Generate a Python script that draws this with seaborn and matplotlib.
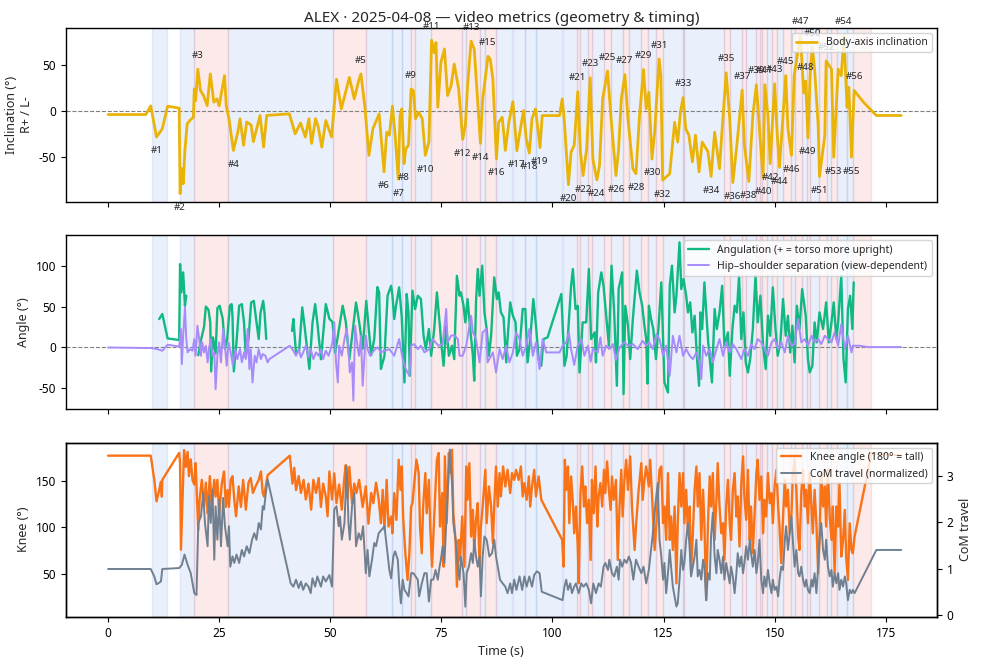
import numpy as np
import pandas as pd
import matplotlib
matplotlib.use("Agg")
import matplotlib.pyplot as plt
import seaborn as sns
from matplotlib.lines import Line2D

nan = float("nan")

# body-axis inclination (time s, degrees)
incl_pts = [
    (0, -3.5), (8.5, -3.5), (9.6, 6), (10.9, -28), (12.2, -19), (13.4, 5.6), (16.0, 3.5),
    (16.2, -89.7), (16.6, -62.5), (16.9, -79), (17.3, -42.6), (17.8, -13.6), (18.4, -10),
    (19.2, -6.3), (19.4, 24.5), (19.7, 11.8), (20.2, 46), (20.8, 22.6), (21.5, 17), (22.3, 6.3),
    (23.0, 40.8), (23.8, 10), (24.5, 13.6), (25.0, 6), (26.2, 39), (26.6, 6), (27.2, -8),
    (28.2, -42.6), (29.2, -22.6), (29.7, -8), (30.5, -37), (31.2, -11.6), (32.2, -15),
    (32.7, -33), (34.2, -4.5), (35.0, -38.9), (35.7, -4.5), (40.8, -2.7), (42.1, -24.5),
    (43.3, -12.7), (44.4, -28), (45.2, -8), (45.8, -35), (46.7, -8), (47.3, -17), (48.1, -39),
    (49.0, -10), (50.3, -28), (51.4, 35), (52.5, 2.7), (54.3, 37), (55.4, 13.6), (56.4, 33.5),
    (56.9, 40.8), (57.8, 4.5), (58.7, -48), (59.6, -19), (61.0, -2.7), (62.1, -66),
    (62.7, -22.7), (63.3, -26), (64.0, 5.6), (64.6, -26), (65.3, -74), (65.7, -4.6), (66.1, 2.7),
    (66.6, -57), (67.0, -41), (67.6, -37), (68.2, 24.4), (68.7, 22.6), (69.2, -8), (69.9, -1),
    (70.7, -8), (71.4, -48), (72.2, -33.5), (72.8, 77.6), (73.4, 64), (73.8, 75), (74.2, 4.5),
    (74.9, 53.4), (75.7, 68), (76.4, 17.2), (77.2, 28), (77.9, 51.6), (78.9, 24.4),
    (79.8, -30.5), (80.4, -15.4), (80.9, 28), (81.7, 76.5), (82.4, 68), (82.9, 31.7),
    (83.8, -35), (84.3, 13.5), (85.5, 60), (86.0, 57), (86.6, 35), (87.4, -52), (87.9, -12),
    (88.7, -6.4), (89.4, -42.6), (90.2, -12), (91.1, 10.6), (92.0, -43), (92.8, -19),
    (93.5, 0.9), (94.1, -30), (94.8, -45.5), (95.4, -8), (96.2, 2.7), (97.2, -39.5),
    (97.7, -4.6), (101.6, -4.6), (102.2, 13.5), (102.7, -12), (103.6, -80), (104.2, -44.4),
    (104.9, -37), (105.7, 21.4), (106.3, -44.4), (106.9, -70), (107.7, -41), (108.5, 36.6),
    (109.1, -52), (110.0, -74.7), (110.6, -59), (111.3, 13.5), (112.4, 43.9), (113.2, -8),
    (114.3, -70), (114.9, -41), (115.5, 13.5), (116.3, 40), (117.0, -8), (118.1, -62.5),
    (118.8, -68), (119.6, -4.6), (120.5, 45.6), (121.1, 2.7), (121.7, 20.8), (122.4, -52),
    (123.0, -23), (124.0, 57), (124.4, 39), (124.8, -75), (126.4, -68), (127.5, -12),
    (128.2, -33.5), (128.8, -1), (129.4, 15), (130.0, -19), (130.7, -26), (131.5, -55),
    (132.2, -26), (133.0, -66), (133.7, -33.5), (135.0, -44), (135.7, -71), (136.5, -22.7),
    (137.6, -62.5), (138.2, -19), (139.1, 42), (139.9, -8), (140.6, -77.6), (141.5, -37),
    (142.7, 23), (143.2, -37), (144.2, -76.5), (145.1, -4.5), (145.9, 29), (146.8, -33.5),
    (147.4, -72), (147.8, 29), (148.5, -4.5), (149.0, -57), (150.0, 30), (150.6, -26),
    (151.1, -61), (152.5, 39), (153.0, -19), (153.8, -48), (154.4, 39), (155.8, 82.6),
    (156.3, 40), (156.6, 20), (157.0, 33), (157.5, -29), (158.0, 40), (158.5, 70), (159.0, 46),
    (159.8, -15.4), (160.1, -71), (161.3, -26), (161.6, 55), (162.8, 46), (163.3, -50),
    (164.3, 46), (165.0, 39), (165.6, 82.6), (166.3, 4.5), (166.7, 26.3), (167.3, -50),
    (167.9, 22.8), (170.0, 10), (172.9, -4.5), (178.5, -4.5),
]

# numbered turn markers on the inclination curve: time, value, label above?
note_t = [10.9, 16.2, 20.2, 28.2, 56.9, 62.1, 65.3, 66.6, 68.2, 71.4, 72.8, 79.8, 81.7, 83.8,
          85.5, 87.4, 92.0, 94.8, 97.2, 103.6, 105.7, 106.9, 108.5, 110.0, 112.4, 114.3, 116.3,
          118.8, 120.5, 122.4, 124.0, 124.8, 129.4, 135.7, 139.1, 140.6, 142.7, 144.2, 145.9,
          147.4, 147.8, 149.0, 150.0, 151.1, 152.5, 153.8, 155.8, 157.0, 157.5, 158.5, 160.1,
          161.6, 163.3, 165.6, 167.3, 167.9]
note_v = [-28, -89.7, 46, -42.6, 40.8, -66, -74, -57, 24.4, -48, 77.6, -30.5, 76.5, -35, 60,
          -52, -43, -45.5, -39.5, -80, 21.4, -70, 36.6, -74.7, 43.9, -70, 40, -68, 45.6, -52, 57,
          -75, 15, -71, 42, -77.6, 23, -76.5, 29, -72, 29, -57, 30, -61, 39, -48, 82.6, 33, -29,
          70, -71, 55, -50, 82.6, -50, 22.8]
note_up = [0, 0, 1, 0, 1, 0, 0, 0, 1, 0, 1, 0, 1, 0, 1, 0, 0, 0, 0, 0, 1, 0, 1, 0, 1, 0, 1, 0,
           1, 0, 1, 0, 1, 0, 1, 0, 1, 0, 1, 0, 1, 0, 1, 0, 1, 0, 1, 1, 0, 1, 0, 1, 0, 1, 0, 1]

# angulation (nan rows = gaps in tracking)
angul_pts = [
    (11.5, 34.6), (12.2, 40.8), (13.4, 10.7), (16.0, 8.7), (16.2, 102.5), (16.5, 67.5),
    (16.9, 92.2), (17.3, 51), (17.6, 63.4), (nan, nan),
    (20.3, -10), (20.8, 6), (21.6, 25), (22.0, 50), (22.6, 46), (23.0, 30), (23.2, -30),
    (23.6, 12), (24.2, -8), (24.6, 48), (25.1, 51), (25.8, 35), (26.3, -2), (26.8, 10),
    (27.4, 51), (27.8, 53), (28.0, 38), (28.3, -30), (28.9, 6), (29.5, 51), (30.1, 53),
    (30.6, 30), (31.0, -12), (31.6, 10), (32.2, 55), (32.8, 57), (33.3, 35), (33.9, 10),
    (34.3, 42), (34.9, 57), (35.2, 43), (35.6, 10), (nan, nan),
    (41.4, 20), (41.7, 34.6), (42.3, -8), (43.0, -4), (43.7, 49), (44.3, 22), (45.3, -27),
    (46.0, 30), (46.6, 53), (47.1, 30), (47.9, -15), (49.0, 53), (49.8, 35), (50.5, 31),
    (51.1, -7), (52.8, 51), (53.5, 31), (54.3, -15), (55.8, 55), (56.5, 31), (57.3, -2),
    (58.1, 57), (58.6, 26), (59.2, -10), (59.9, 10), (60.6, 74), (61.0, 67.5), (61.4, -27),
    (62.2, -10.7), (62.9, 63.4), (63.7, 75.7), (64.0, 63.4), (64.4, 34.6), (64.8, 51),
    (65.5, 73.7), (66.1, 36.6), (66.7, -43.6), (67.2, 65.5), (67.6, 42.8), (67.9, -35.4),
    (68.5, 69.6), (69.1, 47), (69.7, 63.4), (70.4, 59.3), (71.0, 14), (71.5, -2.5),
    (72.2, 22.3), (72.7, -10.7), (73.4, 22.3), (74.0, 67.5), (74.6, 30.5), (74.9, 9.9),
    (75.5, -23), (76.1, 26.4), (76.7, -10.7), (77.4, 1.7), (77.9, -14.8), (78.5, 88),
    (79.1, 63.4), (79.4, 67.5), (80.0, 51), (80.4, 30.5), (80.9, 59.3), (81.5, 22.3),
    (82.1, -10.7), (82.4, -41.5), (82.8, 55.2), (83.2, 96.3), (83.6, 63.4), (84.2, 100.5),
    (84.7, 42.8), (85.2, 22.3), (85.7, -10.7), (86.2, 14), (86.9, 86), (87.5, 59.3),
    (87.9, 67.5), (88.4, 42.8), (89.0, 36.6), (89.6, -18.9), (89.9, 9.9), (90.5, 55.2),
    (91.1, 38.7), (91.7, 30.5), (92.0, -10.7), (92.6, -2.5), (93.3, 47), (93.9, 47),
    (94.4, -18.9), (95.0, 9.9), (95.7, 59.3), (96.3, 26.4), (96.9, -14.8), (97.5, -23),
    (98.0, 9.9), (98.9, 12), (102.0, 65.5), (102.7, -23), (103.2, -10.7), (104.2, 75.7),
    (104.6, 96.3), (105.2, 47), (105.7, 51), (106.1, -31.3), (106.8, 30.5), (107.6, 30.5),
    (108.2, 96.3), (108.7, 9.9), (109.5, 18.1), (109.8, -18.9), (110.3, 67.5), (111.0, 92.2),
    (111.5, 75.7), (112.1, 38.7), (112.7, 1.7), (113.3, 100.5), (113.9, 42.8), (114.5, -47.7),
    (114.9, 71.6), (115.7, 92.2), (116.0, -58), (116.4, 51), (117.0, 26.4), (117.5, -14.8),
    (118.1, 34.6), (119.0, 94.3), (119.6, 67.5), (120.2, 51), (120.7, 26.4), (121.1, 9.9),
    (121.4, -45), (121.7, 51), (122.2, 34.6), (122.7, 22.3), (123.3, -14.8), (123.9, 26.4),
    (124.5, 79.9), (124.9, 9.9), (125.2, -43.6), (126.0, -56), (126.4, 75.7), (126.9, 100.5),
    (127.5, 42.8), (127.9, 63.4), (128.6, 129.2), (129.0, 71.6), (129.5, 84), (130.1, 63.4),
    (130.5, 42.8), (131.0, 55.2), (131.5, 18.1), (132.0, 38.7), (132.5, -10.7),
    (133.0, -47.7), (133.3, 42.8), (133.7, 22.3), (134.2, 79.9), (135.0, 9.9), (135.4, -14.8),
    (135.9, -43.6), (136.5, 47), (137.0, 22.3), (137.6, 42.8), (138.2, 75.7), (138.7, 1.7),
    (139.5, 18.1), (139.9, -35.4), (140.5, 22.3), (141.0, 51), (141.5, 42.8), (142.0, 88.1),
    (142.5, 9.9), (143.0, 42.8), (143.5, -18.9), (144.0, -31.3), (144.5, -14.8), (145.1, 22.3),
    (145.7, 88.1), (146.2, 30.5), (146.8, 63.4), (147.4, 1.7), (148.0, -27.1), (148.5, 38.7),
    (149.0, 14), (149.6, 73.7), (150.2, 22.3), (150.7, -10.7), (151.3, 5.8), (151.9, 59.3),
    (152.5, 14), (153.0, 38.7), (153.5, -6.6), (154.0, 26.4), (154.5, -18.9), (155.0, 51),
    (155.6, 22.3), (156.2, 71.6), (157.0, 38.7), (157.5, -14.8), (157.9, -31.3), (158.5, -23),
    (159.0, 30.5), (159.5, 5.8), (160.1, 42.8), (160.9, 22.3), (161.6, 55.2), (162.2, 5.8),
    (162.8, 30.5), (163.3, 55.2), (163.9, 9.9), (164.3, 30.5), (165.0, 88.1), (165.5, -14.8),
    (166.0, -43.6), (166.5, 47), (167.0, 63.4), (167.5, 22.3), (167.8, 79.9),
]

# hip-shoulder separation
hipsh_pts = [
    (0, -0.5), (9.6, -1.2), (11.1, -2.5), (12.2, -4.5), (13.4, 2.9), (16.0, 0.8), (16.4, 22.3),
    (16.6, -21), (16.9, 14), (17.3, 49), (17.6, 9.9), (17.9, -6.6), (18.4, -2.5), (19.0, -4.5),
    (19.4, 9.9), (19.7, -10.7), (20.1, 26.4), (20.5, 9.9), (20.9, -10.7), (21.2, 5.8),
    (21.6, -6.6), (22.0, 1.7), (22.4, -18.9), (22.7, -2.5), (23.1, 9.9), (23.5, -10.7),
    (23.9, -6.6), (24.2, -52), (24.6, -10.7), (25.0, 5.8), (25.4, -18.9), (25.9, 22.3),
    (26.3, 1.7), (26.7, -23), (27.1, 5.8), (27.6, -6.6), (28.1, -23), (28.6, -2.5),
    (29.1, -14.8), (29.7, -2.5), (30.1, -18.9), (30.6, -6.6), (31.0, -14.8), (31.4, 22.3),
    (31.8, -27.1), (32.1, -2.5), (32.5, -43.6), (33.0, -10.7), (33.4, -18.9), (33.9, -2.5),
    (34.4, -14.8), (34.8, -8.6), (35.4, -10.7), (35.9, -18.9), (36.3, -14.8), (40.9, 1.7),
    (41.7, -4.5), (42.3, -10.7), (42.9, -2.5), (43.4, -12.7), (43.9, -6.6), (44.5, 1.7),
    (45.1, -12.7), (45.6, -2.5), (46.2, -14.8), (46.8, -6.6), (47.4, -10.7), (47.9, -2.5),
    (48.4, -14.8), (49.0, -4.5), (49.6, -10.7), (50.1, -2.5), (50.5, 5.8), (50.9, 30.5),
    (51.3, -18.9), (51.7, -43.6), (52.0, 1.7), (52.6, -10.7), (53.2, 9.9), (53.7, 22.3),
    (54.1, -2.5), (54.4, -31.3), (54.9, -18.9), (55.2, -66), (55.6, 26.4), (56.2, -2.5),
    (56.5, -10.7), (56.9, 14), (57.3, -47.7), (57.7, -10.7), (58.0, 14), (58.4, -2.5),
    (59.0, -10.7), (59.5, -6.6), (60.1, -2.5), (60.7, -0.4), (61.4, -6.6), (62.2, -4.5),
    (63.3, -2.5), (64.4, -10.7), (65.5, 9.9), (66.3, -14.8), (67.0, -27.1), (67.8, -35.4),
    (68.2, 1.7), (68.9, 3.7), (69.7, -2.5), (70.4, 1.7), (71.2, -6.6), (72.3, -2.5),
    (73.0, 9.9), (73.7, 5.8), (74.4, 1.7), (75.3, 3.7), (76.1, 47), (76.4, 5.8), (77.2, 14),
    (77.9, 14.8), (78.7, 9.9), (79.1, -10.7), (79.8, -10.7), (80.6, 1.7), (81.2, 22.3),
    (81.7, 38.7), (82.1, 18.1), (82.8, 9.9), (83.6, -18.9), (84.3, 18.1), (85.1, 22.3),
    (85.4, -18.9), (86.6, -6.6), (87.3, -31.3), (88.1, -2.5), (88.8, -14.8), (89.6, 1.7),
    (90.3, -18.9), (91.1, -6.6), (91.8, 18.1), (92.6, 9.9), (93.3, -10.7), (94.1, 1.7),
    (94.8, 22.3), (95.6, -10.7), (96.3, 5.8), (97.1, -27.1), (97.8, 9.9), (98.6, -6.6),
    (101.6, -6.6), (102.3, 1.7), (103.1, 5.8), (103.7, 18.1), (104.2, -2.5), (104.9, -22),
    (105.7, 1.7), (106.5, 9.9), (107.2, -10.7), (108.0, 1.7), (108.6, -18), (109.1, -2.5),
    (110.2, -6.6), (110.8, 12), (111.3, -10.7), (112.1, 1.7), (112.8, -2.5), (113.6, 3.7),
    (114.3, -16), (115.1, -0.4), (116.2, 5.8), (117.0, 1.7), (118.1, 3.7), (119.2, -2.5),
    (120.3, 7.8), (121.1, 1.7), (121.8, 5.8), (122.6, -2.5), (123.4, 16.1), (124.1, 9.9),
    (124.9, -10.7), (125.6, 1.7), (126.4, -35.4), (127.1, 14), (127.9, -6.6), (128.6, 14),
    (129.4, -10.7), (130.1, -2.5), (130.9, -10.7), (131.6, -14.8), (132.4, -6.6),
    (133.1, -18.9), (133.5, -39.5), (133.9, 1.7), (134.6, -10.7), (135.4, -2.5),
    (136.1, -18.9), (136.9, -2.5), (137.6, 9.9), (138.4, -10.7), (139.1, 5.8), (139.9, -6.6),
    (140.6, 3.7), (141.4, -2.5), (142.5, -14.8), (143.2, -2.5), (144.0, -10.7), (144.7, 3.7),
    (145.5, -2.5), (146.2, 9.9), (147.0, 5.8), (147.8, -2.5), (148.5, -10.7), (149.3, 5.8),
    (150.0, 9.9), (150.8, -2.5), (151.5, 5.8), (152.3, -6.6), (153.0, 14), (153.8, 1.7),
    (154.5, 3.7), (155.3, 34.6), (156.0, 5.8), (156.8, 9.9), (157.5, 1.7), (158.3, 14),
    (159.0, 5.8), (159.8, 9.9), (160.5, 3.7), (161.3, 14), (162.0, 9.9), (162.8, 5.8),
    (163.5, 18.1), (164.3, 1.7), (165.0, 28.4), (165.8, -2.5), (166.5, 14), (167.3, -6.6),
    (167.6, 1.7), (169.1, 1.7), (171.0, 0), (178.5, 0),
]

# knee angle (deg)
knee_pts = [
    (0, 177), (9.6, 177), (10.4, 151), (10.9, 128), (11.5, 140), (11.9, 149), (12.1, 133),
    (12.2, 151), (16.0, 180), (16.2, 169), (16.4, 76), (16.7, 122), (17.1, 183), (17.5, 165),
    (17.9, 181), (18.2, 155), (18.6, 173), (19.0, 151), (19.4, 146), (19.7, 169), (20.1, 122),
    (20.3, 97), (20.6, 130), (21.1, 151), (21.6, 122), (22.0, 148), (22.4, 115), (22.9, 155),
    (23.3, 122), (23.9, 151), (24.2, 133), (24.6, 151), (25.0, 115), (25.6, 147), (26.1, 160),
    (26.5, 122), (26.9, 140), (27.2, 122), (27.6, 151), (28.0, 155), (28.4, 130), (28.8, 112),
    (29.4, 144), (29.9, 122), (30.4, 151), (31.0, 119), (31.6, 148), (32.1, 153), (32.6, 137),
    (33.2, 144), (33.9, 151), (34.4, 160), (34.8, 137), (35.1, 133), (35.9, 156), (40.9, 177),
    (41.5, 147), (41.9, 164), (42.3, 140), (42.9, 155), (43.4, 137), (44.0, 151), (44.5, 130),
    (45.1, 147), (45.7, 119), (46.2, 151), (46.8, 137), (47.4, 153), (47.9, 122), (48.4, 147),
    (49.0, 133), (49.4, 112), (49.8, 160), (50.4, 130), (50.9, 158), (51.4, 126), (52.0, 146),
    (52.6, 119), (53.2, 155), (53.5, 167), (53.9, 131), (54.3, 165), (54.9, 126), (55.4, 147),
    (55.9, 137), (56.5, 151), (57.3, 122), (58.0, 144), (58.6, 104), (59.2, 137), (59.7, 126),
    (60.3, 148), (60.9, 130), (61.4, 104.5), (61.8, 140.3), (62.2, 97.3), (62.7, 151),
    (63.1, 100.9), (63.7, 111.7), (64.0, 93.7), (64.4, 136.8), (64.9, 108.1), (65.4, 172.6),
    (65.8, 140.3), (66.1, 165.4), (66.4, 111.7), (66.9, 72.2), (67.4, 43.6), (67.8, 72.2),
    (68.2, 122.4), (68.5, 126), (68.9, 147.5), (69.4, 172.6), (69.9, 158.3), (70.2, 100.9),
    (70.6, 72.2), (70.9, 122.4), (71.4, 158.3), (71.7, 115.2), (72.2, 151), (72.5, 100.9),
    (72.9, 57.9), (73.2, 90.2), (73.7, 143.9), (74.0, 172.6), (74.4, 179.8), (74.7, 100.9),
    (75.2, 136.8), (75.5, 57.9), (75.8, 176.2), (76.2, 104.5), (76.7, 179.8), (76.9, 158.3),
    (77.4, 183.3), (77.7, 115.2), (78.2, 86.6), (78.5, 36.4), (78.9, 86.6), (79.2, 65.1),
    (79.7, 111.7), (80.2, 57.9), (80.6, 165.4), (80.9, 129.6), (81.3, 169), (81.7, 90.2),
    (82.1, 118.8), (82.4, 75.8), (82.8, 108.1), (83.2, 126), (83.6, 57.9), (83.9, 100.9),
    (84.3, 122.4), (84.9, 161.8), (85.2, 104.5), (85.7, 143.9), (86.2, 122.4), (86.6, 83),
    (86.9, 122.4), (87.3, 165.4), (87.7, 122.4), (88.1, 158.3), (88.4, 133.2), (88.9, 165.4),
    (89.4, 143.9), (89.9, 161.8), (90.5, 136.8), (90.9, 158.3), (91.4, 151), (91.8, 161.8),
    (92.4, 151), (92.9, 165.4), (93.3, 133.2), (93.7, 147.5), (94.2, 129.6), (94.7, 154.7),
    (95.0, 122.4), (95.4, 143.9), (95.9, 161.8), (96.3, 133.2), (96.9, 154.7), (97.5, 129.6),
    (102.2, 86.6), (102.5, 57.9), (102.8, 172.6), (103.1, 140.3), (103.5, 165.4),
    (103.8, 104.5), (104.2, 154.7), (104.6, 126), (104.9, 93.7), (105.3, 122.4), (105.7, 79.4),
    (105.9, 40), (106.3, 136.8), (106.7, 165.4), (107.1, 122.4), (107.4, 143.9), (107.8, 104.5),
    (108.2, 129.6), (108.6, 65.1), (108.9, 151), (109.3, 115.2), (109.7, 165.4), (110.1, 100.9),
    (110.4, 133.2), (110.8, 147.5), (111.2, 122.4), (111.6, 161.8), (111.9, 136.8),
    (112.3, 170.8), (112.7, 140.3), (113.1, 118.8), (113.4, 154.7), (113.8, 129.6), (114.3, 151),
    (114.7, 65.1), (115.1, 122.4), (115.5, 161.8), (115.8, 111.7), (116.2, 151), (116.6, 172.6),
    (117.0, 140.3), (117.5, 176.2), (117.9, 122.4), (118.5, 75.8), (118.8, 100.9),
    (119.4, 140.3), (120.0, 169), (120.3, 129.6), (120.7, 151), (121.1, 165.4), (121.7, 143.9),
    (122.0, 172.6), (122.5, 126), (123.0, 75.8), (123.4, 104.5), (123.7, 133.2), (124.1, 161.8),
    (124.5, 165.4), (124.9, 104.5), (125.2, 122.4), (125.6, 86.6), (126.0, 158.3), (126.4, 86.6),
    (126.7, 111.7), (127.1, 75.8), (127.5, 122.4), (127.9, 40), (128.2, 104.5), (128.6, 158.3),
    (129.0, 122.4), (129.4, 158.3), (129.7, 104.5), (130.1, 140.3), (130.5, 93.7),
    (130.9, 122.4), (131.2, 50.7), (131.6, 93.7), (132.0, 140.3), (132.4, 165.4), (132.7, 122.4),
    (133.1, 158.3), (133.5, 86.6), (133.9, 140.3), (134.2, 104.5), (134.6, 22), (135.0, 104.5),
    (135.4, 154.7), (135.7, 122.4), (136.1, 158.3), (136.5, 86.6), (136.9, 129.6), (137.2, 169),
    (137.6, 122.4), (138.0, 93.7), (138.4, 104.5), (138.7, 65.1), (139.1, 122.4), (139.5, 151),
    (139.9, 104.5), (140.2, 86.6), (140.6, 140.3), (141.0, 158.3), (141.4, 111.7),
    (141.7, 133.2), (142.1, 79.4), (142.5, 147.5), (142.9, 176.2), (143.2, 133.2),
    (143.6, 108.1), (144.0, 161.8), (144.4, 86.6), (144.7, 122.4), (145.1, 72.2), (145.5, 115.2),
    (145.9, 158.3), (146.2, 172.6), (146.6, 129.6), (147.0, 154.7), (147.4, 93.7),
    (147.7, 129.6), (148.1, 111.7), (148.5, 158.3), (148.9, 126), (149.3, 136.8), (149.6, 104.5),
    (150.0, 143.9), (150.4, 161.8), (150.8, 122.4), (151.1, 100.9), (151.5, 61.5),
    (151.9, 111.7), (152.3, 151), (152.6, 122.4), (153.0, 140.3), (153.4, 93.7), (153.8, 115.2),
    (154.1, 154.7), (154.5, 172.6), (154.9, 140.3), (155.3, 90.2), (155.6, 75.8), (156.0, 136.8),
    (156.4, 161.8), (156.8, 122.4), (157.1, 140.3), (157.5, 104.5), (157.9, 158.3),
    (158.3, 122.4), (158.6, 93.7), (159.0, 140.3), (159.4, 104.5), (159.8, 50.7), (160.1, 86.6),
    (160.5, 158.3), (160.9, 122.4), (161.3, 143.9), (161.6, 100.9), (162.0, 161.8),
    (162.4, 111.7), (162.8, 86.6), (163.1, 122.4), (163.5, 50.7), (163.9, 122.4), (164.3, 100.9),
    (164.6, 147.5), (165.0, 68.7), (165.4, 86.6), (165.8, 118.8), (166.1, 68.7), (166.5, 43.6),
    (166.9, 104.5), (167.3, 75.8), (167.6, 72.2), (168.0, 90.2), (171.8, 179.8), (178.5, 177),
]

# centre-of-mass travel (normalized)
com_pts = [
    (0, 0.99), (9.6, 0.99), (10.4, 0.83), (10.9, 0.66), (11.9, 0.72), (12.2, 0.99), (16.0, 1.01),
    (16.6, 1.08), (17.2, 1.30), (17.9, 1.08), (18.6, 0.9), (19.4, 0.47), (19.9, 0.43),
    (20.3, 1.98), (20.9, 2.12), (21.4, 2.63), (21.8, 1.98), (22.4, 1.48), (22.7, 2.56),
    (23.1, 1.98), (23.5, 2.7), (23.9, 1.19), (24.2, 2.34), (24.6, 1.62), (25.0, 2.48),
    (25.4, 1.48), (25.9, 2.52), (26.3, 1.91), (26.9, 1.48), (27.2, 1.91), (27.5, 1.04),
    (28.0, 1.26), (28.4, 1.12), (28.9, 1.3), (29.5, 1.12), (30.1, 1.4), (30.6, 1.26),
    (31.2, 1.48), (31.8, 1.33), (32.4, 1.62), (32.9, 1.76), (33.4, 1.62), (33.9, 1.98),
    (34.4, 1.84), (34.8, 2.34), (35.1, 2.27), (35.5, 2.63), (35.9, 2.92), (41.1, 0.68),
    (41.7, 0.61), (42.3, 0.76), (42.9, 0.58), (43.4, 0.72), (43.9, 0.54), (44.5, 0.68),
    (45.1, 0.61), (45.6, 0.47), (46.0, 0.79), (46.6, 0.61), (47.1, 0.83), (47.9, 0.61),
    (48.4, 0.83), (49.0, 0.72), (49.8, 0.86), (50.4, 0.61), (50.9, 2.27), (51.4, 2.34),
    (51.9, 1.91), (52.2, 2.12), (52.6, 1.62), (53.2, 1.98), (53.7, 3.2), (54.1, 1.98),
    (54.4, 1.62), (54.9, 2.34), (55.4, 2.63), (55.8, 1.48), (56.4, 1.76), (56.9, 1.62),
    (57.4, 1.91), (58.0, 0.9), (58.4, 1.4), (58.8, 0.83), (59.4, 1.19), (59.9, 1.55),
    (60.3, 1.48), (60.9, 1.76), (61.6, 1.84), (62.2, 1.91), (62.7, 1.48), (63.3, 0.97),
    (63.7, 0.79), (64.2, 1.26), (64.6, 1.37), (65.2, 1.19), (65.5, 0.68), (65.9, 0.25),
    (66.3, 0.76), (66.7, 0.54), (67.2, 0.47), (67.6, 0.4), (68.2, 0.9), (68.7, 0.9),
    (69.2, 0.83), (69.7, 0.76), (70.0, 0.4), (70.6, 0.68), (71.2, 0.9), (71.7, 0.9),
    (72.2, 0.29), (72.7, 0.76), (73.2, 0.76), (73.7, 0.97), (74.2, 0.76), (74.6, 1.04),
    (74.9, 1.19), (75.3, 1.48), (75.7, 1.12), (76.2, 2.2), (76.7, 3.2), (76.9, 3.56),
    (77.4, 2.84), (77.7, 1.98), (78.2, 1.62), (78.7, 1.04), (79.1, 0.76), (79.4, 1.26),
    (80.0, 0.9), (80.4, 0.18), (80.7, 0.9), (81.2, 1.04), (81.7, 1.33), (82.1, 1.12),
    (82.4, 1.62), (82.8, 1.26), (83.2, 1.04), (83.6, 1.26), (83.9, 0.4), (84.3, 1.26),
    (84.7, 1.69), (85.2, 1.62), (85.8, 1.26), (86.4, 1.33), (86.9, 1.62), (87.3, 1.26),
    (87.7, 1.04), (88.2, 0.76), (88.8, 0.68), (89.4, 0.61), (89.9, 0.47), (90.5, 0.68),
    (90.9, 0.47), (91.4, 0.76), (91.9, 0.54), (92.6, 0.83), (93.2, 0.54), (93.7, 0.83),
    (94.2, 0.61), (94.8, 0.83), (95.4, 0.61), (95.9, 0.86), (96.5, 0.94), (97.1, 0.9),
    (97.6, 0.5), (102.3, 0.32), (102.7, 0.61), (103.1, 0.76), (103.5, 0.54), (104.0, 0.68),
    (104.4, 0.47), (104.9, 0.61), (105.3, 0.68), (105.9, 0.47), (106.5, 0.68), (107.0, 0.61),
    (107.6, 0.68), (108.2, 0.54), (108.7, 0.25), (109.2, 0.68), (109.8, 0.47), (110.4, 0.68),
    (110.9, 0.61), (111.5, 1.04), (111.9, 1.12), (112.5, 0.97), (112.8, 1.19), (113.4, 0.9),
    (113.9, 0.83), (114.5, 1.04), (114.9, 0.76), (115.2, 1.19), (115.7, 1.04), (116.2, 1.19),
    (116.7, 1.12), (117.2, 1.26), (117.7, 1.12), (118.2, 0.76), (118.8, 1.19), (119.4, 1.04),
    (120.0, 0.9), (120.5, 1.04), (121.1, 0.68), (121.7, 0.97), (122.2, 1.4), (122.6, 1.76),
    (123.2, 2.41), (123.7, 2.84), (124.1, 1.62), (124.5, 1.26), (124.9, 0.76), (125.2, 1.12),
    (125.6, 0.47), (126.0, 0.9), (126.4, 1.4), (126.7, 1.04), (127.1, 0.61), (127.5, 0.4),
    (127.9, 0.18), (128.2, 0.25), (128.6, 0.76), (129.0, 1.4), (129.4, 0.97), (129.7, 1.12),
    (130.1, 1.62), (130.5, 1.98), (130.9, 1.4), (131.2, 0.83), (131.6, 1.04), (132.0, 1.26),
    (132.4, 1.62), (132.7, 0.83), (133.1, 0.97), (133.5, 0.76), (133.9, 1.19), (134.2, 1.04),
    (134.6, 0.32), (135.0, 0.9), (135.4, 0.76), (135.7, 1.69), (136.1, 2.2), (136.5, 1.26),
    (136.9, 0.9), (137.2, 1.4), (137.6, 1.19), (138.0, 0.9), (138.4, 1.26), (138.7, 0.76),
    (139.1, 1.12), (139.5, 0.9), (139.9, 0.68), (140.2, 1.04), (140.6, 0.83), (141.0, 0.47),
    (141.4, 0.9), (141.7, 1.33), (142.1, 1.04), (142.5, 1.26), (142.9, 0.9), (143.2, 1.12),
    (143.6, 1.48), (144.0, 1.19), (144.4, 1.62), (144.7, 1.33), (145.1, 1.04), (145.5, 1.4),
    (145.9, 0.9), (146.2, 1.12), (146.6, 1.62), (147.0, 0.76), (147.4, 0.47), (147.7, 0.83),
    (148.1, 0.61), (148.5, 0.97), (148.9, 0.68), (149.3, 0.47), (149.6, 0.76), (150.0, 0.54),
    (150.4, 0.61), (150.8, 0.4), (151.1, 0.76), (151.5, 1.04), (151.9, 0.97), (152.3, 1.62),
    (152.6, 1.91), (153.0, 1.4), (153.4, 1.76), (153.8, 2.12), (154.1, 1.62), (154.5, 1.04),
    (154.9, 1.4), (155.3, 0.9), (155.6, 0.83), (156.0, 1.04), (156.4, 0.76), (156.8, 0.61),
    (157.1, 0.76), (157.5, 0.54), (157.9, 0.47), (158.3, 0.76), (158.6, 0.61), (159.0, 0.9),
    (159.4, 0.47), (159.8, 1.04), (160.1, 1.62), (160.5, 1.98), (160.9, 1.4), (161.3, 1.19),
    (161.6, 1.62), (162.0, 1.04), (162.4, 0.83), (162.8, 0.97), (163.1, 0.61), (163.5, 0.9),
    (163.9, 0.68), (164.3, 0.9), (164.6, 0.54), (165.0, 0.76), (165.4, 0.61), (165.8, 0.83),
    (166.1, 0.68), (166.5, 0.32), (166.9, 0.54), (167.3, 0.47), (167.6, 0.54), (168.0, 0.47),
    (172.9, 1.4), (178.5, 1.4),
]

# phase shading (start, end in s)
blue_spans = [(9.9, 13.3), (16.2, 19.4), (27.0, 50.7), (58.1, 64.0), (64.0, 66.2), (66.2, 68.2),
              (69.1, 72.7), (79.7, 80.6), (83.6, 84.9), (87.2, 90.9), (91.1, 93.9), (93.9, 96.4),
              (96.4, 102.2), (102.4, 105.6), (106.1, 108.1), (109.0, 111.7), (113.1, 115.8),
              (117.3, 120.0), (121.6, 123.4), (124.8, 129.3), (129.7, 138.5), (139.9, 142.6),
              (143.5, 145.7), (146.6, 147.1), (148.2, 149.5), (150.5, 152.0), (153.6, 154.5),
              (156.1, 157.2), (157.9, 160.1), (161.7, 162.8), (164.0, 166.2), (166.2, 167.6)]
red_spans = [(19.4, 27.0), (50.7, 58.1), (68.2, 69.1), (72.7, 79.7), (80.6, 83.6), (84.9, 87.2),
             (105.6, 106.1), (108.1, 109.0), (111.7, 113.1), (115.8, 117.3), (120.0, 121.6),
             (123.4, 124.8), (129.3, 129.7), (138.5, 139.9), (142.6, 143.5), (145.7, 146.6),
             (147.1, 148.2), (149.5, 150.5), (152.0, 153.6), (154.5, 156.1), (157.2, 157.9),
             (160.1, 161.7), (162.8, 164.0), (167.6, 171.8)]

YELLOW = "#eab308"
GREEN = "#10b981"
PURPLE = "#a78bfa"
ORANGE = "#f97316"
SLATE = "#708090"


def to_df(pts):
    df = pd.DataFrame(pts, columns=["t", "v"])
    df["seg"] = df["t"].isna().cumsum()
    return df.dropna()


sns.set_theme(style="ticks", rc={
    "axes.labelsize": 9, "xtick.labelsize": 8.5, "ytick.labelsize": 8.5,
    "legend.fontsize": 7.5, "axes.edgecolor": "black", "axes.linewidth": 1.0,
    "xtick.color": "black", "ytick.color": "black",
    "xtick.major.size": 3.5, "ytick.major.size": 3.5,
    "xtick.major.width": 0.8, "ytick.major.width": 0.8,
    "xtick.major.pad": 3.5, "ytick.major.pad": 3.5,
    "axes.unicode_minus": False,
})
plt.rcParams["font.family"] = ["Noto Sans", "DejaVu Sans"]

fig, axes = plt.subplots(3, 1, figsize=(9.83, 6.64), dpi=100, sharex=True)
fig.subplots_adjust(left=0.067, right=0.953, top=0.958, bottom=0.071, hspace=0.19)
ax0, ax1, ax2 = axes

for ax in axes:
    for a, b in blue_spans:
        ax.axvspan(a, b, color="#4a7fe0", alpha=0.12, zorder=0.5)
    for a, b in red_spans:
        ax.axvspan(a, b, color="#e84a4a", alpha=0.12, zorder=0.5)

# top: inclination
incl = to_df(incl_pts)
ax0.axhline(0, color="gray", ls="--", lw=0.8, zorder=1)
sns.lineplot(data=incl, x="t", y="v", units="seg", estimator=None, sort=False,
             color=YELLOW, lw=2.0, ax=ax0, legend=False)
for i, (t, v, up) in enumerate(zip(note_t, note_v, note_up)):
    ax0.annotate(f"#{i + 1}", (t, v), xytext=(0, 10 if up else -10),
                 textcoords="offset points", ha="center", va="center", fontsize=7)
ax0.set_ylim(-99, 91)
ax0.set_yticks([-50, 0, 50])
ax0.set_ylabel("Inclination (°)\nR+ / L-")
ax0.set_xlabel("")
ax0.legend(handles=[Line2D([], [], color=YELLOW, lw=2, label="Body-axis inclination")],
           loc="upper right")
ax0.set_title("ALEX · 2025-04-08 — video metrics (geometry & timing)", fontsize=11, pad=4)

# middle: angulation and separation
ax1.axhline(0, color="gray", ls="--", lw=0.8, zorder=1)
sns.lineplot(data=to_df(angul_pts), x="t", y="v", units="seg", estimator=None, sort=False,
             color=GREEN, lw=1.7, ax=ax1, legend=False)
sns.lineplot(data=to_df(hipsh_pts), x="t", y="v", units="seg", estimator=None, sort=False,
             color=PURPLE, lw=1.4, ax=ax1, legend=False)
ax1.set_ylim(-77, 138)
ax1.set_yticks([-50, 0, 50, 100])
ax1.set_ylabel("Angle (°)")
ax1.set_xlabel("")
ax1.legend(handles=[Line2D([], [], color=GREEN, lw=1.7, label="Angulation (+ = torso more upright)"),
                    Line2D([], [], color=PURPLE, lw=1.4, label="Hip–shoulder separation (view-dependent)")],
           loc="upper right")

# bottom: knee and CoM travel
sns.lineplot(data=to_df(knee_pts), x="t", y="v", units="seg", estimator=None, sort=False,
             color=ORANGE, lw=1.7, ax=ax2, legend=False)
ax2b = ax2.twinx()
sns.lineplot(data=to_df(com_pts), x="t", y="v", units="seg", estimator=None, sort=False,
             color=SLATE, lw=1.4, ax=ax2b, legend=False)
ax2.set_ylim(4, 191)
ax2.set_yticks([50, 100, 150])
ax2b.set_ylim(-0.04, 3.71)
ax2b.set_yticks([0, 1, 2, 3])
ax2.set_ylabel("Knee (°)")
ax2b.set_ylabel("CoM travel")
ax2.set_xlabel("Time (s)")
ax2b.legend(handles=[Line2D([], [], color=ORANGE, lw=1.7, label="Knee angle (180° = tall)"),
                     Line2D([], [], color=SLATE, lw=1.4, label="CoM travel (normalized)")],
            loc="upper right")

ax2.set_xlim(-9.5, 186.5)
ax2.set_xticks([0, 25, 50, 75, 100, 125, 150, 175])

fig.savefig("out.png", dpi=100)
